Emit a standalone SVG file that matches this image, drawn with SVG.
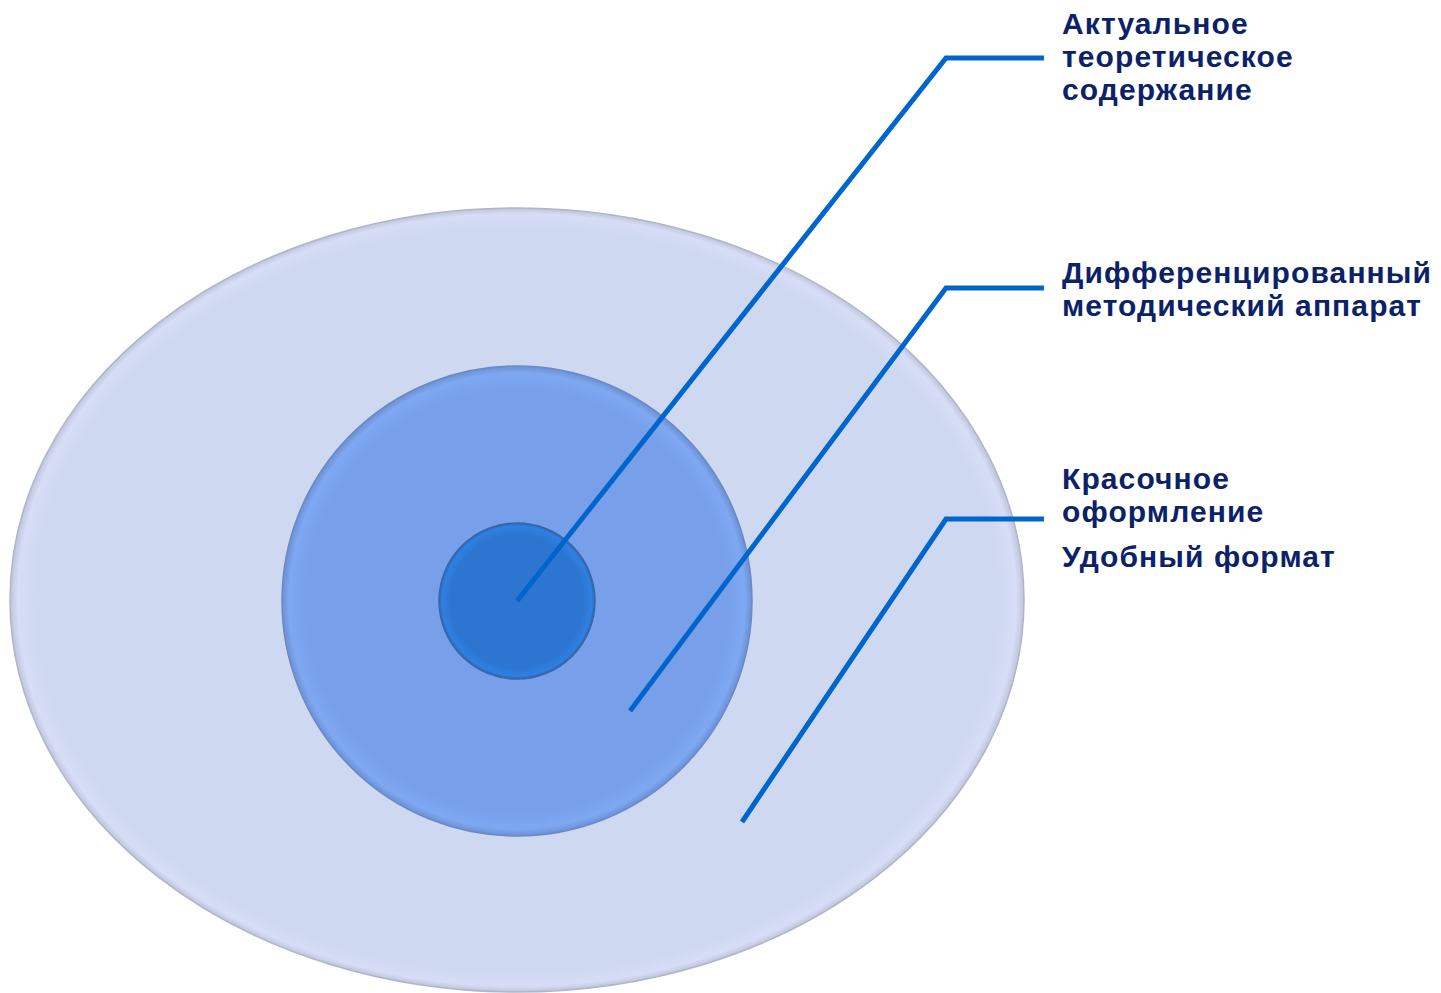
<svg xmlns="http://www.w3.org/2000/svg" width="1441" height="993" viewBox="0 0 1441 993">
  <style>
    .lbl { font-family: "Liberation Sans", Arial, sans-serif; font-weight: bold; font-size: 30px; letter-spacing: 1.1px; fill: #0B2268; }
    .conn { fill: none; stroke: #0066CC; stroke-width: 5; stroke-linejoin: miter; }
  </style>
  <defs>
    <radialGradient id="gOuter" cx="0.5" cy="0.5" r="0.5">
      <stop offset="0.95" stop-color="#CFD8F1"/>
      <stop offset="0.985" stop-color="#D7DDF7"/>
      <stop offset="1" stop-color="#BEC4D8"/>
    </radialGradient>
    <radialGradient id="gMid" cx="0.5" cy="0.5" r="0.5">
      <stop offset="0.9" stop-color="#78A0EA"/>
      <stop offset="0.97" stop-color="#7EA8F2"/>
      <stop offset="1" stop-color="#6C8FD2"/>
    </radialGradient>
    <radialGradient id="gInner" cx="0.5" cy="0.5" r="0.5">
      <stop offset="0.85" stop-color="#2C75D0"/>
      <stop offset="0.96" stop-color="#2F80E2"/>
      <stop offset="1" stop-color="#2A66B2"/>
    </radialGradient>
  </defs>
  <rect width="1441" height="993" fill="#FFFFFF"/>
  <g id="outer">
    <ellipse cx="517" cy="600" rx="507" ry="392" fill="url(#gOuter)" stroke="#B0B6C8" stroke-width="1.5"/>
  </g>
  <g id="middle">
    <circle cx="517" cy="601" r="235" fill="url(#gMid)" stroke="#6A8AC6" stroke-width="1.5"/>
  </g>
  <g id="inner">
    <circle cx="517" cy="601" r="78" fill="url(#gInner)" stroke="#3866A8" stroke-width="1.5"/>
  </g>
  <g id="connectors">
    <polyline class="conn" points="517,601 946,58 1044,58"/>
    <polyline class="conn" points="630,711 946,288 1044,288"/>
    <polyline class="conn" points="742,822 946,519 1044,519"/>
  </g>
  <g id="label-content">
    <text class="lbl" x="1062" y="34">Актуальное</text>
    <text class="lbl" x="1062" y="67">теоретическое</text>
    <text class="lbl" x="1062" y="100">содержание</text>
  </g>
  <g id="label-method">
    <text class="lbl" x="1062" y="283">Дифференцированный</text>
    <text class="lbl" x="1062" y="316">методический аппарат</text>
  </g>
  <g id="label-design">
    <text class="lbl" x="1062" y="489">Красочное</text>
    <text class="lbl" x="1062" y="522">оформление</text>
    <text class="lbl" x="1062" y="567">Удобный формат</text>
  </g>
</svg>
